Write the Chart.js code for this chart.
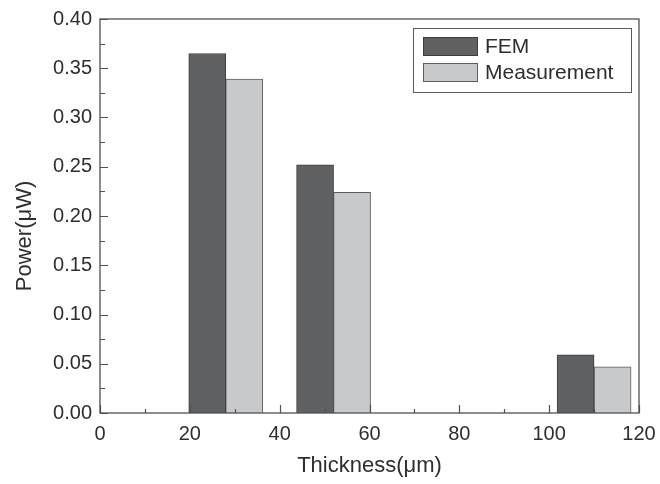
<!DOCTYPE html>
<html>
<head>
<meta charset="utf-8">
<script src="https://cdn.jsdelivr.net/npm/chart.js@4/dist/chart.umd.min.js"></script>
<style>
html,body{margin:0;padding:0;background:#fff;}
#wrap{width:660px;height:484px;position:relative;}
</style>
</head>
<body>
<div id="wrap"><canvas id="c" width="660" height="484"></canvas></div>
<script>
// ---- data ----
const thickness = [28, 52, 110];              // µm (group centres)
const femPower = [0.365, 0.252, 0.059];       // µW
const measuredPower = [0.339, 0.224, 0.047];  // µW
const seriesNames = ["FEM", "Measurement"];
const xTitle = "Thickness(\u03bcm)";
const yTitle = "Power(\u03bcW)";
const xTickValues = [0, 20, 40, 60, 80, 100, 120];
const yTickValues = [0, 0.05, 0.10, 0.15, 0.20, 0.25, 0.30, 0.35, 0.40];

const FONT = "'Liberation Sans', Arial, sans-serif";
const AXIS = "#505050";
const TEXT = "#2e2e2e";

const toPoints = (vals) => thickness.map((t, i) => ({x: t, y: vals[i]}));

const frame = {
  id: 'frame',
  afterDraw(chart) {
    const {ctx, chartArea: a, scales: {x, y}} = chart;
    ctx.save();
    ctx.strokeStyle = AXIS;
    ctx.lineWidth = 1.3;
    ctx.strokeRect(a.left, a.top, a.right - a.left, a.bottom - a.top);
    ctx.lineWidth = 1.2;
    ctx.beginPath();
    // inward ticks on x (bottom)
    for (let v = 0; v <= 120; v += 10) {
      const px = Math.round(x.getPixelForValue(v)) + 0.5;
      const len = (v % 20 === 0) ? 8 : 4;
      ctx.moveTo(px, a.bottom);
      ctx.lineTo(px, a.bottom - len);
    }
    // inward ticks on y (left)
    for (let k = 0; k <= 16; k++) {
      const v = k * 0.025;
      const py = Math.round(y.getPixelForValue(v)) + 0.5;
      const len = (k % 2 === 0) ? 8 : 5;
      ctx.moveTo(a.left, py);
      ctx.lineTo(a.left + len, py);
    }
    ctx.stroke();

    // y axis title (drawn slightly below centre, as in the reference)
    ctx.fillStyle = TEXT;
    ctx.font = "22px " + FONT;
    ctx.translate(25, 236);
    ctx.rotate(-Math.PI / 2);
    ctx.textAlign = 'center';
    ctx.textBaseline = 'middle';
    ctx.fillText(yTitle, 0, 0);
    ctx.restore();

    // legend box inside plot
    ctx.save();
    ctx.strokeStyle = "#5a5a5a";
    ctx.lineWidth = 1;
    ctx.strokeRect(413.5, 28.5, 218, 64);
    chart.data.datasets.forEach((ds, i) => {
      const top = 37 + i * 26;
      ctx.fillStyle = ds.backgroundColor;
      ctx.fillRect(423, top, 55, 19);
      ctx.strokeStyle = ds.borderColor;
      ctx.lineWidth = 1;
      ctx.strokeRect(423.5, top + 0.5, 54, 18);
      ctx.fillStyle = TEXT;
      ctx.font = "21px " + FONT;
      ctx.textAlign = 'left';
      ctx.textBaseline = 'middle';
      ctx.fillText(ds.label, 485, top + 10);
    });
    ctx.restore();
  }
};

new Chart(document.getElementById('c'), {
  type: 'bar',
  data: {
    datasets: [
      {
        label: seriesNames[0],
        data: toPoints(femPower),
        backgroundColor: "#606163",
        borderColor: "#3c3c3e",
        borderWidth: 1,
        barThickness: 37
      },
      {
        label: seriesNames[1],
        data: toPoints(measuredPower),
        backgroundColor: "#c8c9cb",
        borderColor: "#5e5e60",
        borderWidth: 1,
        barThickness: 37
      }
    ]
  },
  plugins: [frame],
  options: {
    responsive: false,
    animation: false,
    devicePixelRatio: 1,
    layout: {padding: {left: 0, top: 19, right: 21, bottom: 0}},
    plugins: {legend: {display: false}, tooltip: {enabled: false}},
    scales: {
      x: {
        type: 'linear',
        min: 0, max: 120,
        offset: false,
        grid: {display: false, drawTicks: false},
        border: {display: false},
        afterBuildTicks: (s) => { s.ticks = xTickValues.map(v => ({value: v})); },
        ticks: {
          padding: 9,
          color: TEXT,
          font: {family: FONT, size: 20},
          maxRotation: 0,
          autoSkip: false,
          callback: (v) => String(v)
        },
        title: {
          display: true,
          text: xTitle,
          color: TEXT,
          font: {family: FONT, size: 22},
          padding: {top: 0, bottom: 5}
        },
        afterFit: (s) => { s.height = 71; s.paddingLeft = 0; s.paddingRight = 0; }
      },
      y: {
        min: 0, max: 0.40,
        grid: {display: false, drawTicks: false},
        border: {display: false},
        afterBuildTicks: (s) => { s.ticks = yTickValues.map(v => ({value: v})); },
        ticks: {
          padding: 8,
          color: TEXT,
          font: {family: FONT, size: 20},
          autoSkip: false,
          callback: (v) => Number(v).toFixed(2)
        },
        afterFit: (s) => { s.width = 100; s.paddingTop = 0; s.paddingBottom = 0; }
      }
    }
  }
});
</script>
</body>
</html>
